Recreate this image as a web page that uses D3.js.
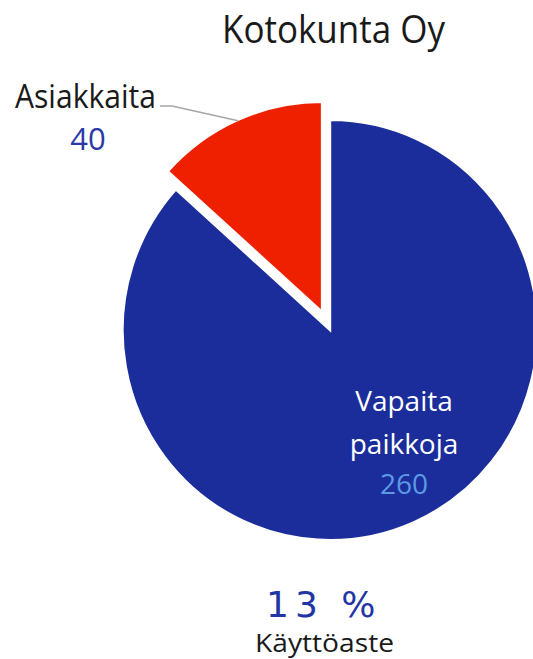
<!DOCTYPE html>
<html>
<head>
<meta charset="utf-8">
<script src="https://cdn.jsdelivr.net/npm/d3@7"></script>
<style>
  body { margin: 0; background: #fff; }
  text { font-family: "Open Sans", "Noto Sans", sans-serif; }
</style>
</head>
<body>
<svg id="chart"></svg>
<script>
const TITLE = "Kotokunta Oy";
const categories = ["Asiakkaita", "Vapaita paikkoja"];
const values = [40, 260];
const colors = ["#ee2000", "#1b2d9b"];
const rateText = "13 %";
const rateLabel = "Käyttöaste";

const WIDTH = 533;
const HEIGHT = 659;
const CX = 330, CY = 330, R = 207.5;
const SY = 1.013;      // reference pie is a touch taller than wide
const EXPLODE = 19.5;

let svg = d3.select("#chart")
  .attr("width", WIDTH)
  .attr("height", HEIGHT);

// title
svg.append("text")
  .attr("x", 222)
  .attr("y", 43)
  .attr("textLength", 223)
  .attr("lengthAdjust", "spacingAndGlyphs")
  .style("font-size", "38px")
  .style("fill", "#1a1a1a")
  .text(TITLE);

const total = d3.sum(values);
const start = -2 * Math.PI * values[0] / total;

let pie = d3.pie()
  .sort(null)
  .startAngle(start)
  .endAngle(start + 2 * Math.PI);

let arc = d3.arc().innerRadius(0).outerRadius(R);

let data = pie(values).map((a, i) => Object.assign(a, { name: categories[i] }));

let g = svg.append("g").attr("transform", `translate(${CX},${CY}) scale(1,${SY})`);

// offset along the bisector, used for the exploded slice
function offset(d, dist) {
  const mid = (d.startAngle + d.endAngle) / 2;
  return [Math.sin(mid) * dist, -Math.cos(mid) * dist];
}

g.selectAll("path")
  .data(data)
  .enter()
  .append("path")
    .attr("d", arc)
    .attr("transform", (d, i) => {
      const [dx, dy] = i === 0 ? offset(d, EXPLODE) : [0, 0];
      return `translate(${dx},${dy})`;
    })
    .attr("fill", (d, i) => colors[i])
    .attr("stroke", "#fff")
    .attr("stroke-width", 2.4)
    .attr("stroke-linejoin", "miter");

// outside label for the small slice, with a leader line
let red = data[0];
let [ex, ey] = offset(red, R + EXPLODE - 1);
svg.append("polyline")
  .attr("points", [[CX + ex, CY + ey * SY], [172, 106], [160, 106]].map(p => p.join(",")).join(" "))
  .attr("fill", "none")
  .attr("stroke", "#a6a6a6")
  .attr("stroke-width", 1.5);

svg.append("text")
  .attr("x", 15)
  .attr("y", 108)
  .attr("textLength", 141)
  .attr("lengthAdjust", "spacingAndGlyphs")
  .style("font-size", "33px")
  .style("fill", "#1a1a1a")
  .text(red.name);
svg.append("text")
  .attr("x", 88)
  .attr("y", 150)
  .attr("text-anchor", "middle")
  .style("font-size", "31px")
  .style("fill", "#2a3aa6")
  .text(red.value);

// inside label for the big slice
let blue = data[1];
let labelArc = d3.arc().innerRadius(R * 0.64).outerRadius(R * 0.64);
let [lx, ly] = labelArc.centroid(blue);
let lbl = svg.append("text")
  .attr("transform", `translate(${CX + lx + 20},${CY + ly * SY + 1})`)
  .attr("text-anchor", "middle")
  .style("font-size", "28px");
lbl.append("tspan").attr("x", 0).attr("y", -43).style("fill", "#fff").text("Vapaita");
lbl.append("tspan").attr("x", 0).attr("y", 0).style("fill", "#fff").text("paikkoja");
lbl.append("tspan").attr("x", 0).attr("y", 40).style("fill", "#5b9be3").text(blue.value);

// utilization rate
svg.append("text")
  .attr("x", 266)
  .attr("y", 617)
  .style("font-family", "'DejaVu Sans', sans-serif")
  .style("font-size", "36px")
  .style("letter-spacing", "6px")
  .style("fill", "#2335a4")
  .text(rateText);
svg.append("text")
  .attr("x", 255)
  .attr("y", 652)
  .attr("textLength", 139)
  .attr("lengthAdjust", "spacingAndGlyphs")
  .style("font-size", "26px")
  .style("fill", "#1a1a1a")
  .text(rateLabel);
</script>
</body>
</html>
